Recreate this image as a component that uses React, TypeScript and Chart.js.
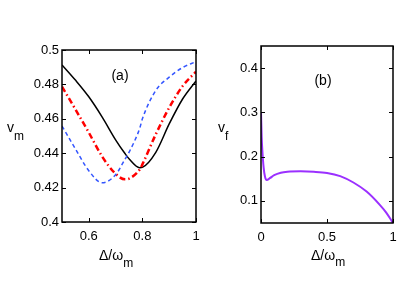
import React, { useEffect, useRef } from "react";
import { Chart, registerables } from "chart.js";

Chart.register(...registerables);

// ---- Panel (a) data ----
const detuningA = [0.5, 0.55, 0.6, 0.65, 0.7, 0.735, 0.75, 0.79, 0.8, 0.85, 0.9, 0.95, 1.0];
const vmSolid = [0.4913, 0.4825, 0.4728, 0.461, 0.4478, 0.4398, 0.4368, 0.4316, 0.4318, 0.4405, 0.457, 0.4715, 0.482];
const vmDashed = [0.4558, 0.4425, 0.4298, 0.4228, 0.4275, 0.4365, 0.4405, 0.4545, 0.46, 0.4765, 0.4842, 0.4898, 0.4932];
const vmDashDot = [0.4787, 0.4655, 0.452, 0.438, 0.428, 0.4248, 0.4252, 0.4305, 0.4335, 0.451, 0.4665, 0.479, 0.4874];
const xTicksA = [0.6, 0.8, 1];
const yTicksA = [0.4, 0.42, 0.44, 0.46, 0.48, 0.5];

// ---- Panel (b) data ----
const detuningB = [0, 0.005, 0.01, 0.02, 0.03, 0.043, 0.07, 0.1, 0.15, 0.2, 0.3, 0.4, 0.5, 0.6, 0.7, 0.8, 0.9, 0.95, 1.0];
const vf = [0.3, 0.245, 0.215, 0.175, 0.155, 0.147, 0.152, 0.158, 0.1635, 0.1658, 0.1668, 0.1658, 0.1632, 0.156, 0.1415, 0.121, 0.091, 0.073, 0.05];
const xTicksB = [0, 0.5, 1];
const yTicksB = [0.1, 0.2, 0.3, 0.4];

const FONT = "'Liberation Sans', Arial, Helvetica, sans-serif";

type Label = { main: string; sub: string; x: number; y: number; subDy: number };

function fmt(v: number) {
  return String(+Number(v).toFixed(3));
}

function makeFramePlugin(panelLabel: { text: string; x: number; y: number }, labels: Label[]) {
  return {
    id: "frameAndLabels",
    afterDraw(chart: any) {
      const { ctx, chartArea: a, scales } = chart;
      ctx.save();
      ctx.strokeStyle = "#000";
      ctx.lineWidth = 1.5;
      ctx.strokeRect(a.left, a.top, a.right - a.left, a.bottom - a.top);
      ctx.lineWidth = 1;
      const tl = 4;
      ctx.beginPath();
      scales.x.ticks.forEach((t: any) => {
        const px = Math.round(scales.x.getPixelForValue(t.value)) + 0.5;
        ctx.moveTo(px, a.bottom);
        ctx.lineTo(px, a.bottom - tl);
        ctx.moveTo(px, a.top);
        ctx.lineTo(px, a.top + tl);
      });
      scales.y.ticks.forEach((t: any) => {
        const py = Math.round(scales.y.getPixelForValue(t.value)) + 0.5;
        ctx.moveTo(a.left, py);
        ctx.lineTo(a.left + tl, py);
        ctx.moveTo(a.right, py);
        ctx.lineTo(a.right - tl, py);
      });
      ctx.stroke();

      ctx.fillStyle = "#000";
      ctx.textBaseline = "middle";
      ctx.textAlign = "center";
      ctx.font = `14px ${FONT}`;
      ctx.fillText(panelLabel.text, panelLabel.x, panelLabel.y);

      ctx.textBaseline = "alphabetic";
      ctx.textAlign = "left";
      labels.forEach((l) => {
        ctx.font = `14px ${FONT}`;
        ctx.fillText(l.main, l.x, l.y);
        const w = ctx.measureText(l.main).width;
        ctx.font = `12px ${FONT}`;
        ctx.fillText(l.sub, l.x + w, l.y + l.subDy);
      });
      ctx.restore();
    },
  };
}

type PanelProps = {
  left: number;
  width: number;
  datasets: any[];
  xMin: number;
  xMax: number;
  yMin: number;
  yMax: number;
  xTicks: number[];
  yTicks: number[];
  padTop: number;
  padRight: number;
  yAxisWidth: number;
  xAxisHeight: number;
  panelLabel: { text: string; x: number; y: number };
  labels: Label[];
};

function Panel(p: PanelProps) {
  const ref = useRef<HTMLCanvasElement | null>(null);
  useEffect(() => {
    if (!ref.current) return;
    const tickFont = { family: FONT, size: 13 };
    const chart = new Chart(ref.current, {
      type: "line",
      data: { datasets: p.datasets },
      options: {
        responsive: false,
        animation: false,
        devicePixelRatio: 1,
        layout: { padding: { top: p.padTop, right: p.padRight, left: 0, bottom: 0 } },
        plugins: { legend: { display: false }, tooltip: { enabled: false } },
        elements: { point: { radius: 0 } },
        scales: {
          x: {
            type: "linear",
            min: p.xMin,
            max: p.xMax,
            afterBuildTicks: (s: any) => {
              s.ticks = p.xTicks.map((v) => ({ value: v }));
            },
            afterFit: (s: any) => {
              s.height = p.xAxisHeight;
            },
            grid: { display: false, drawTicks: false },
            border: { display: false },
            ticks: {
              font: tickFont,
              color: "#000",
              padding: 7,
              maxRotation: 0,
              autoSkip: false,
              callback: (v: any) => fmt(v),
            },
          },
          y: {
            type: "linear",
            min: p.yMin,
            max: p.yMax,
            afterBuildTicks: (s: any) => {
              s.ticks = p.yTicks.map((v) => ({ value: v }));
            },
            afterFit: (s: any) => {
              s.width = p.yAxisWidth;
            },
            grid: { display: false, drawTicks: false },
            border: { display: false },
            ticks: {
              font: tickFont,
              color: "#000",
              padding: 3,
              autoSkip: false,
              callback: (v: any) => fmt(v),
            },
          },
        },
      } as any,
      plugins: [makeFramePlugin(p.panelLabel, p.labels)],
    });
    return () => chart.destroy();
  }, []);
  return (
    <canvas
      ref={ref}
      width={p.width}
      height={286}
      style={{ position: "absolute", left: p.left, top: 0, display: "block" }}
    />
  );
}

export default function App() {
  const toPts = (xs: number[], ys: number[]) => xs.map((x, i) => ({ x, y: ys[i] }));
  const dsA = [
    {
      data: toPts(detuningA, vmDashed),
      borderColor: "#3355ff",
      borderWidth: 1.5,
      borderDash: [4, 3],
      cubicInterpolationMode: "monotone",
      pointRadius: 0,
    },
    {
      data: toPts(detuningA, vmDashDot),
      borderColor: "#ff0000",
      borderWidth: 2.5,
      borderDash: [6, 3, 1.5, 3],
      cubicInterpolationMode: "monotone",
      pointRadius: 0,
    },
    {
      data: toPts(detuningA, vmSolid),
      borderColor: "#000000",
      borderWidth: 1.5,
      cubicInterpolationMode: "monotone",
      pointRadius: 0,
    },
  ];
  const dsB = [
    {
      data: toPts(detuningB, vf),
      borderColor: "#9b30ff",
      borderWidth: 2,
      cubicInterpolationMode: "monotone",
      pointRadius: 0,
    },
  ];
  return (
    <div style={{ position: "fixed", left: 0, top: 0, width: 415, height: 286, background: "#fff" }}>
      <Panel
        left={0}
        width={207}
        datasets={dsA}
        xMin={0.5}
        xMax={1}
        yMin={0.4}
        yMax={0.5}
        xTicks={xTicksA}
        yTicks={yTicksA}
        padTop={50}
        padRight={11}
        yAxisWidth={62}
        xAxisHeight={64}
        panelLabel={{ text: "(a)", x: 120, y: 76 }}
        labels={[
          { main: "v", sub: "m", x: 7, y: 132, subDy: 8 },
          { main: "Δ/ω", sub: "m", x: 99, y: 260, subDy: 7 },
        ]}
      />
      <Panel
        left={207}
        width={208}
        datasets={dsB}
        xMin={0}
        xMax={1}
        yMin={0.05}
        yMax={0.45}
        xTicks={xTicksB}
        yTicks={yTicksB}
        padTop={46}
        padRight={22}
        yAxisWidth={54}
        xAxisHeight={63}
        panelLabel={{ text: "(b)", x: 323 - 207, y: 81 }}
        labels={[
          { main: "v", sub: "f", x: 218 - 207, y: 132, subDy: 8 },
          { main: "Δ/ω", sub: "m", x: 311 - 207, y: 260, subDy: 6 },
        ]}
      />
    </div>
  );
}
